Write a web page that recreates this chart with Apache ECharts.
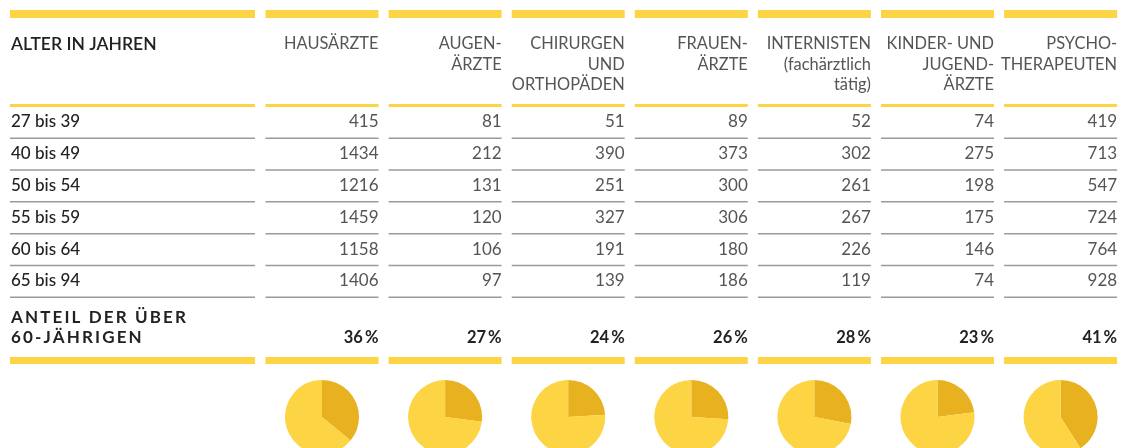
<!DOCTYPE html>
<html>
<head>
<meta charset="utf-8">
<script src="https://cdn.jsdelivr.net/npm/echarts@6/dist/echarts.min.js"></script>
<style>
  html, body { margin: 0; padding: 0; background: #fff; }
  #chart { width: 1126px; height: 448px; }
</style>
</head>
<body>
<div id="chart"></div>
<script>
// Daten
const headerFirst = 'ALTER IN JAHREN'
const columns = [
  ['HAUSÄRZTE'],
  ['AUGEN-', 'ÄRZTE'],
  ['CHIRURGEN', 'UND', 'ORTHOPÄDEN'],
  ['FRAUEN-', 'ÄRZTE'],
  ['INTERNISTEN', '(fachärztlich', 'tätig)'],
  ['KINDER- UND', 'JUGEND-', 'ÄRZTE'],
  ['PSYCHO-', 'THERAPEUTEN']
]
const ageGroups = ['27 bis 39', '40 bis 49', '50 bis 54', '55 bis 59', '60 bis 64', '65 bis 94']
const hausaerzte = [415, 1434, 1216, 1459, 1158, 1406]
const augenaerzte = [81, 212, 131, 120, 106, 97]
const chirurgen = [51, 390, 251, 327, 191, 139]
const frauenaerzte = [89, 373, 300, 306, 180, 186]
const internisten = [52, 302, 261, 267, 226, 119]
const kinderaerzte = [74, 275, 198, 175, 146, 74]
const psychotherapeuten = [419, 713, 547, 724, 764, 928]
const summaryLabel = ['ANTEIL DER ÜBER', '60-JÄHRIGEN']
const shareOver60 = [36, 27, 24, 26, 28, 23, 41]

const values = [hausaerzte, augenaerzte, chirurgen, frauenaerzte, internisten, kinderaerzte, psychotherapeuten]

const YELLOW = '#fdd443'
const DARK = '#e8b120'
const FONT = 'Lato, "DejaVu Sans", sans-serif'

// Layout
const firstX = 10
const firstW = 245
const colX0 = 265.5
const colStep = 123.1
const colW = 113
const rowY0 = 122
const rowStep = 31.8
const pieY = 417
const pieR = 37

const chart = echarts.init(document.getElementById('chart'))

const colLeft = i => colX0 + i * colStep
const colRight = i => colLeft(i) + colW
const colMid = i => colLeft(i) + colW / 2
// gesperrte Schrift
const spaced = s => s.split('').join('\u2009')

const graphic = []
function bar (x, y, w, h, color) {
  graphic.push({ type: 'rect', shape: { x: x, y: y, width: w, height: h }, style: { fill: color }, silent: true })
}
function text (str, x, y, align, font, color) {
  graphic.push({
    type: 'text', x: x, y: y, silent: true,
    style: { text: str, align: align, verticalAlign: 'middle', font: font, fill: color }
  })
}
function allCols (fn) {
  fn(firstX, firstW)
  for (let i = 0; i < columns.length; i++) fn(colLeft(i), colW)
}

// Balken oben, unter Kopf, unten
allCols((x, w) => bar(x, 10, w, 8, YELLOW))
allCols((x, w) => bar(x, 104, w, 3, YELLOW))
allCols((x, w) => bar(x, 357, w, 7, YELLOW))

// Kopfzeile
text(headerFirst, firstX + 1, 44, 'left', '600 17.5px ' + FONT, '#222')
columns.forEach((lines, i) => {
  lines.forEach((l, j) => {
    text(l, colRight(i), 44 + j * 20.5, 'right', '16.4px ' + FONT, '#555')
  })
})

// Zeilen
ageGroups.forEach((g, r) => {
  const y = rowY0 + r * rowStep
  text(g, firstX + 1, y, 'left', '500 17px ' + FONT, '#222')
  values.forEach((arr, i) => {
    text(String(arr[r]), colRight(i), y, 'right', '17px ' + FONT, '#555')
  })
  allCols((x, w) => bar(x, y + 15.5, w, 1.5, '#9a9a9a'))
})

// Anteil über 60
summaryLabel.forEach((l, j) => {
  text(spaced(l), firstX + 1, 318 + j * 20, 'left', 'bold 17px ' + FONT, '#222')
})
shareOver60.forEach((p, i) => {
  text(p + '\u2009%', colRight(i), 338, 'right', 'bold 16.5px ' + FONT, '#222')
})

// Kreisdiagramme
const series = shareOver60.map((p, i) => ({
  type: 'pie',
  center: [colMid(i), pieY],
  radius: [0, pieR],
  startAngle: 90,
  clockwise: true,
  silent: true,
  animation: false,
  label: { show: false },
  labelLine: { show: false },
  itemStyle: { borderWidth: 0 },
  data: [
    { value: p, itemStyle: { color: DARK } },
    { value: 100 - p, itemStyle: { color: YELLOW } }
  ]
}))

chart.setOption({
  backgroundColor: '#fff',
  animation: false,
  graphic: graphic,
  series: series
})
</script>
</body>
</html>
